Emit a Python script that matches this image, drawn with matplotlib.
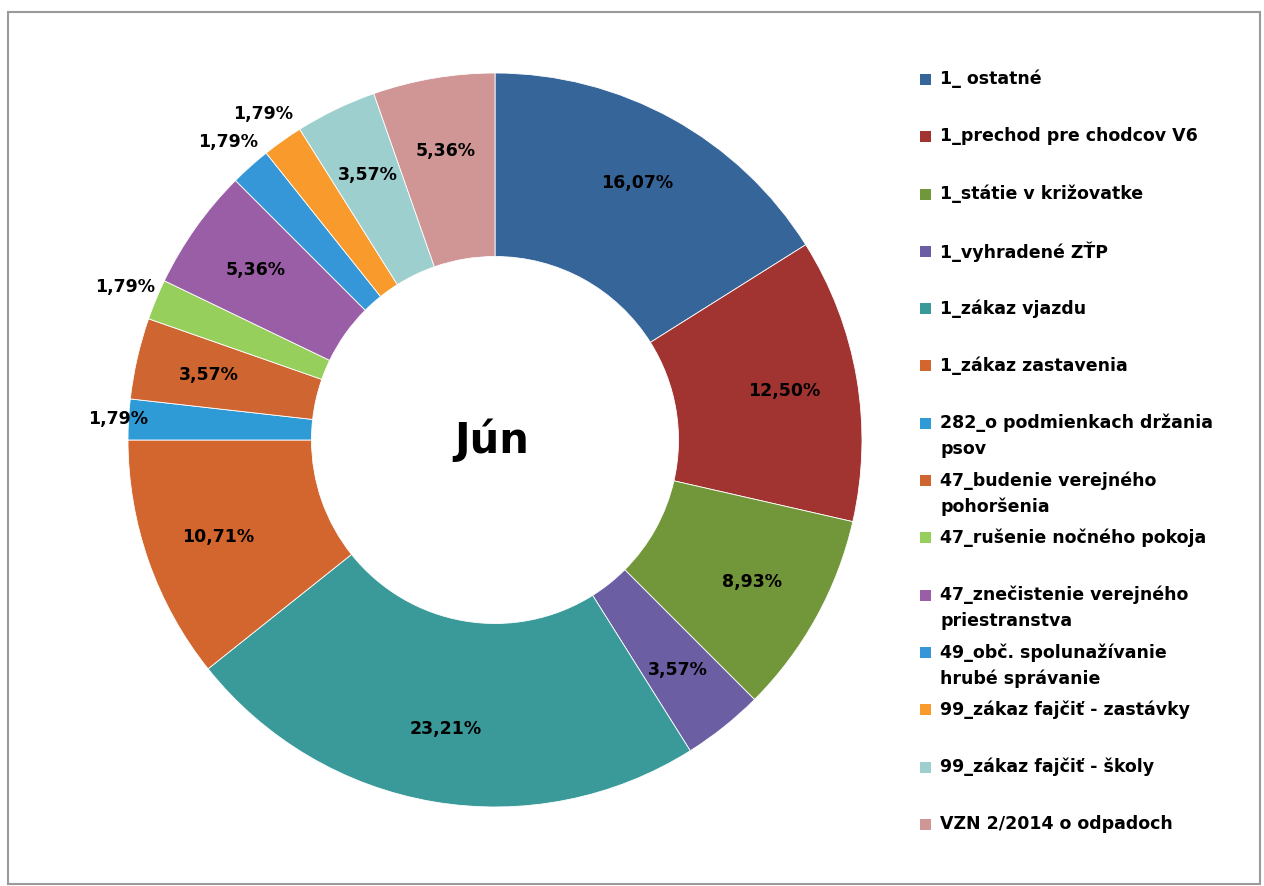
import matplotlib.pyplot as plt
from matplotlib.patches import Rectangle
import numpy as np

# kategórie priestupkov - jún
categories = [
    "1_ ostatné",
    "1_prechod pre chodcov V6",
    "1_státie v križovatke",
    "1_vyhradené ZŤP",
    "1_zákaz vjazdu",
    "1_zákaz zastavenia",
    "282_o podmienkach držania\npsov",
    "47_budenie verejného\npohoršenia",
    "47_rušenie nočného pokoja",
    "47_znečistenie verejného\npriestranstva",
    "49_obč. spolunažívanie\nhrubé správanie",
    "99_zákaz fajčiť - zastávky",
    "99_zákaz fajčiť - školy",
    "VZN 2/2014 o odpadoch",
]
counts = [9, 7, 5, 2, 13, 6, 1, 2, 1, 3, 1, 1, 2, 3]
colors = [
    "#36659A", "#A13331", "#72963A", "#6C5EA3", "#3A9A9A", "#D3652E", "#2E9AD6",
    "#CF6530", "#97CF5C", "#9A5EA6", "#3597D8", "#F89A2C", "#9CCFCE", "#D09595",
]
title = "Jún"

W, H = 1264, 886
fig = plt.figure(figsize=(W / 100, H / 100), dpi=100)

# okraj grafu
fig.patches.append(Rectangle((8 / W, 2 / H), 1252 / W, 872 / H, transform=fig.transFigure,
                             fill=False, edgecolor="#9A9A9A", linewidth=1.5))

cx, cy, rad = 495, 440, 367
ax = fig.add_axes([(cx - rad) / W, (H - cy - rad) / H, 2 * rad / W, 2 * rad / H])
wedges, _ = ax.pie(counts, colors=colors, startangle=90, counterclock=False, radius=1,
                   wedgeprops=dict(width=0.5, edgecolor="white", linewidth=0.6))
ax.set_xlim(-1, 1)
ax.set_ylim(-1, 1)
ax.set_aspect("equal")
ax.axis("off")

total = sum(counts)
for w, c in zip(wedges, counts):
    ang = np.deg2rad((w.theta1 + w.theta2) / 2)
    txt = f"{c / total * 100:.2f}%".replace(".", ",")
    if c == 1:
        r = 1.03 if abs(np.sin(ang)) < 0.2 else 1.09
    else:
        r = 0.8
    ax.text(r * np.cos(ang), r * np.sin(ang), txt, ha="center", va="center",
            fontsize=12.5, fontweight="bold", color="black", clip_on=False)

ax.text(-0.01, 0.0, title, ha="center", va="center", fontsize=30, fontweight="bold")

# legenda
for i, (lab, col) in enumerate(zip(categories, colors)):
    y = 80 + i * 57.3
    fig.patches.append(Rectangle((920 / W, 1 - (y + 5) / H), 11 / W, 11 / H,
                                 transform=fig.transFigure, facecolor=col, edgecolor="none"))
    fig.text(940 / W, 1 - (y - 10) / H, lab, ha="left", va="top", fontsize=12.5,
             fontweight="bold", linespacing=1.55)

fig.savefig("out.png", dpi=100)
